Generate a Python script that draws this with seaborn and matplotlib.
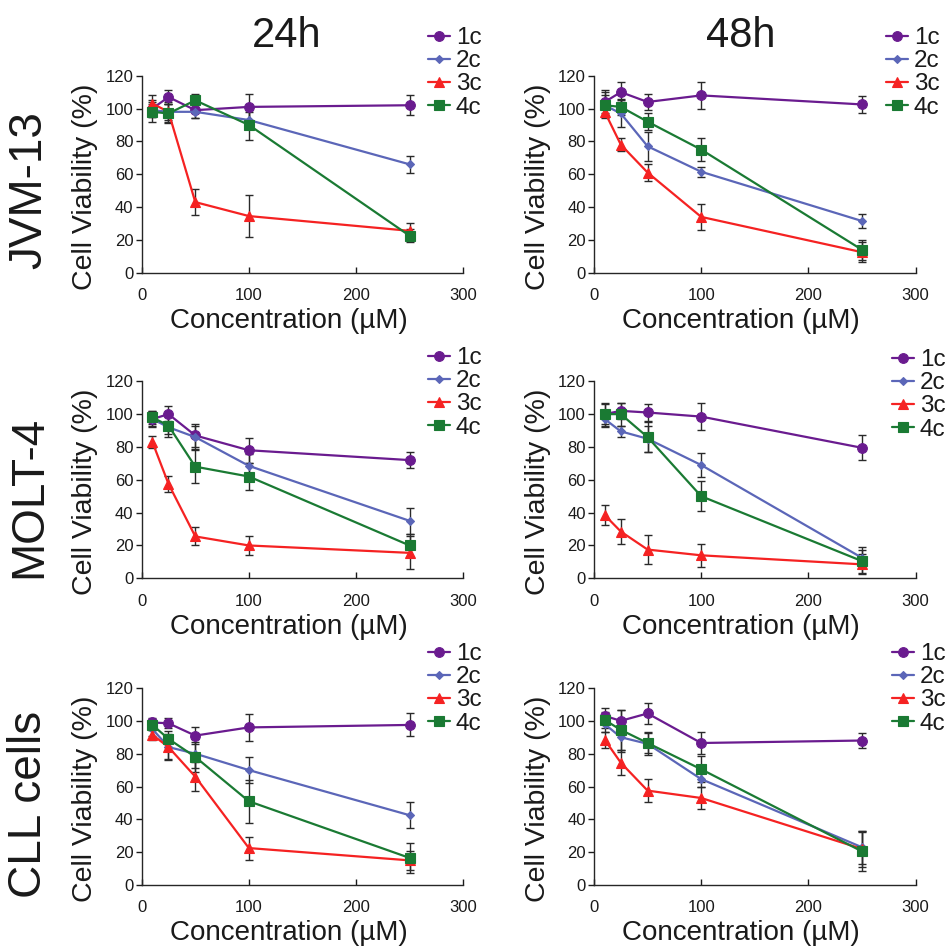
import matplotlib
matplotlib.use("Agg")
import numpy as np
import pandas as pd
import seaborn as sns
import matplotlib.pyplot as plt

# ---------------- data ----------------
concentration = [10, 25, 50, 100, 250]
compounds = ["1c", "2c", "3c", "4c"]
times = ["24h", "48h"]
cell_lines = ["JVM-13", "MOLT-4", "CLL cells"]

# mean viability (%) per compound (rows: 1c, 2c, 3c, 4c)
jvm13_24h = [[100, 107, 99, 101, 102],
             [99, 98, 98, 93, 66],
             [103, 98, 43, 34.5, 25.5],
             [98, 97, 105, 90, 22.5]]
jvm13_24h_err = [[5, 4, 5, 8, 6],
                 [4, 5, 4, 5, 5],
                 [5, 6, 8, 13, 5],
                 [6, 6, 4, 9, 4]]

jvm13_48h = [[104, 110, 104, 108, 102.5],
             [102, 97, 77, 61.5, 31.5],
             [98, 78, 61, 34, 12.5],
             [102, 101, 92, 75, 14]]
jvm13_48h_err = [[7, 6, 5, 8, 5],
                 [8, 8, 9, 3, 4],
                 [3, 4, 5, 8, 6],
                 [6, 5, 5, 7, 6]]

molt4_24h = [[97, 100, 87, 78, 72],
             [97, 92, 86, 68.5, 35],
             [83, 57.5, 25.5, 20, 15.5],
             [98, 93, 68, 62, 20]]
molt4_24h_err = [[5, 5, 7, 7.5, 5],
                 [4, 4, 7, 7, 8],
                 [3.5, 5, 5.5, 6, 10],
                 [4, 7, 10, 8, 7]]

molt4_48h = [[100, 102, 101, 98.5, 79.5],
             [97, 89.5, 85, 69, 12.5],
             [38.5, 28.5, 17.5, 14, 8.5],
             [100, 100, 86, 50, 10.5]]
molt4_48h_err = [[7, 5, 5, 8, 7.5],
                 [5, 3.5, 8, 7.5, 6.5],
                 [6, 7.5, 9, 7, 6],
                 [6, 7, 9, 9, 7]]

cll_24h = [[99, 98.5, 91, 96, 97.5],
           [95, 84, 80, 70, 42.5],
           [91.5, 84, 66, 22.5, 15],
           [97.5, 89, 78, 51, 16.5]]
cll_24h_err = [[3, 3, 5, 8, 7],
               [4, 7, 9, 8, 8],
               [3, 8, 9, 7, 6],
               [3, 5, 9, 13, 9]]

cll_48h = [[103, 100, 104.5, 86.5, 88],
           [98, 90, 86, 64.5, 23],
           [88.5, 74.5, 57.5, 53, 22],
           [100.5, 94.5, 86.5, 70.5, 20.5]]
cll_48h_err = [[5, 6.5, 6.5, 7, 4.5],
               [5, 9, 7, 5, 10],
               [5, 7.5, 7, 7, 11],
               [5, 12, 6, 8, 12]]

x_ticks = [0, 100, 200, 300]
y_ticks = [0, 20, 40, 60, 80, 100, 120]

panels = [[(jvm13_24h, jvm13_24h_err), (jvm13_48h, jvm13_48h_err)],
          [(molt4_24h, molt4_24h_err), (molt4_48h, molt4_48h_err)],
          [(cll_24h, cll_24h_err), (cll_48h, cll_48h_err)]]

# ---------------- style ----------------
colors = ["#6a1b8f", "#5b66b8", "#f52222", "#1a7a33"]
markers = ["o", "D", "^", "s"]
msizes = [7, 4.2, 7.5, 6.5]

sns.set_style("ticks")
plt.rcParams["font.family"] = ["Liberation Sans", "DejaVu Sans"]
plt.rcParams["axes.linewidth"] = 1.0
plt.rcParams["text.color"] = "#1a1a1a"

W, H = 952, 947
fig = plt.figure(figsize=(W / 100, H / 100), dpi=100)

col_left = [141.7, 594.0]
ax_w = 321.5
row_top = [75.7, 381.3, 688.0]
ax_h = 197.0
legend_pos = [[(428, 27), (886, 27)],
              [(428, 347), (892, 349)],
              [(428, 643), (892, 643)]]

for r in range(3):
    for c in range(2):
        vals, errs = panels[r][c]
        ax = fig.add_axes([col_left[c] / W, 1 - (row_top[r] + ax_h) / H,
                           ax_w / W, ax_h / H])
        handles = []
        for i, comp in enumerate(compounds):
            df = pd.DataFrame({"Concentration": concentration,
                               "Viability": vals[i]})
            sns.lineplot(data=df, x="Concentration", y="Viability", ax=ax,
                         color=colors[i], marker=markers[i],
                         markersize=msizes[i], markeredgecolor=colors[i],
                         markeredgewidth=0.8, linewidth=1.6,
                         errorbar=None, zorder=3, clip_on=False)
            handles.append(ax.lines[-1])
            ax.errorbar(concentration, vals[i], yerr=errs[i], fmt="none",
                        ecolor="#2a2a2a", elinewidth=1.0, capsize=3.2,
                        capthick=1.0, zorder=2, clip_on=False)
        ax.set_xlim(0, 300)
        ax.set_ylim(0, 120)
        ax.set_xticks(x_ticks)
        ax.set_yticks(y_ticks)
        sns.despine(ax=ax)
        ax.tick_params(axis="y", direction="out", length=4, width=1,
                       labelsize=12, pad=2, colors="#1a1a1a")
        ax.tick_params(axis="x", direction="in", length=4, width=1,
                       labelsize=12, pad=11, colors="#1a1a1a")
        ax.set_xlabel("Concentration (µM)", fontsize=20, color="#1a1a1a")
        ax.set_ylabel("Cell Viability (%)", fontsize=20.5, color="#1a1a1a")
        ax.xaxis.set_label_coords(0.458, -0.18)
        ax.yaxis.set_label_coords(-0.135, 0.437)
        lx, ly = legend_pos[r][c]
        ax.legend(handles, compounds, loc="upper left",
                  bbox_to_anchor=(lx / W, 1 - ly / H),
                  bbox_transform=fig.transFigure, frameon=False,
                  fontsize=17.5, handlelength=0.9, handletextpad=0.25,
                  labelspacing=0.05, borderpad=0, borderaxespad=0)

# column titles
fig.text(287 / W, 1 - 47 / H, times[0], fontsize=30, ha="center",
         va="baseline")
fig.text(741 / W, 1 - 47 / H, times[1], fontsize=30, ha="center",
         va="baseline")

# row labels
row_centers = [190, 497, 804]
for name, yc in zip(cell_lines, row_centers):
    fig.text(29 / W, 1 - yc / H, name, fontsize=33, rotation=90,
             ha="center", va="center")

fig.savefig("out.png", dpi=100)
